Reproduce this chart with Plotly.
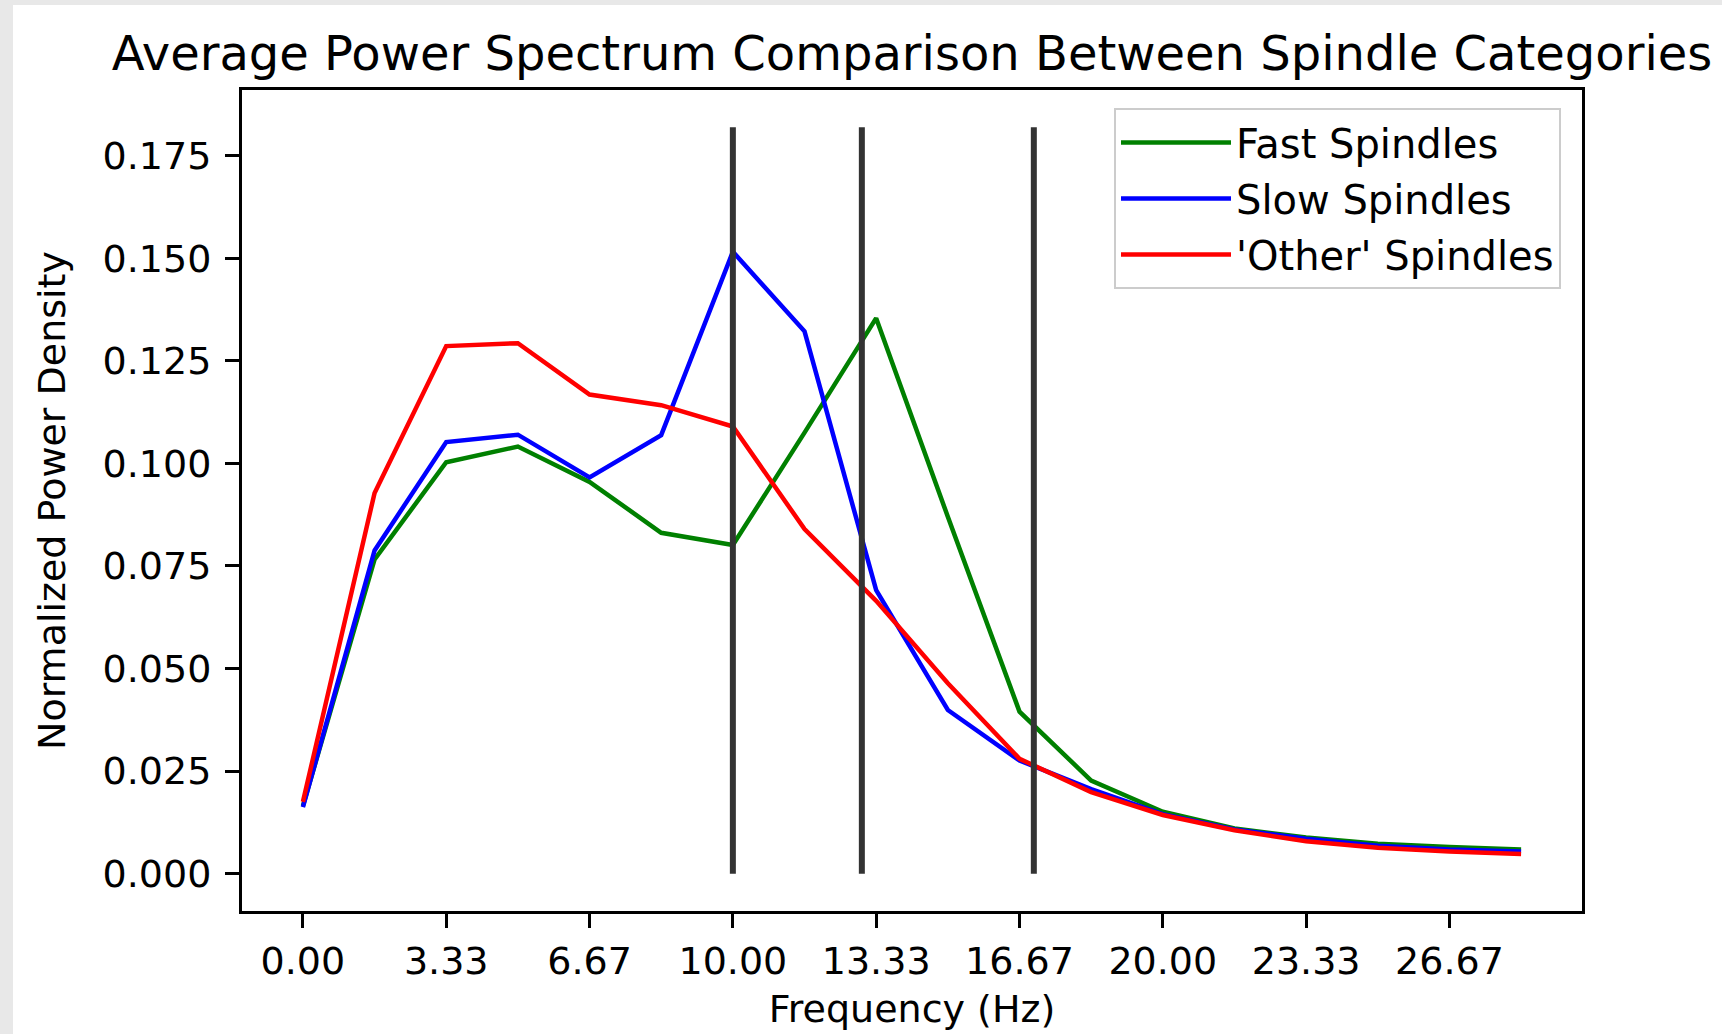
import plotly.graph_objects as go

# Frequency bins (Hz) of the averaged spectra
freqs = [0.0, 1.667, 3.333, 5.0, 6.667, 8.333, 10.0, 11.667, 13.333,
         15.0, 16.667, 18.333, 20.0, 21.667, 23.333, 25.0, 26.667, 28.333]

fast = [0.0165, 0.0766, 0.1003, 0.1041, 0.0955, 0.0831, 0.0801, 0.1075, 0.1354,
        0.0870, 0.0395, 0.0227, 0.0151, 0.0110, 0.0088, 0.0073, 0.0065, 0.0059]
slow = [0.0162, 0.0788, 0.1052, 0.1070, 0.0966, 0.1069, 0.1516, 0.1322, 0.0691,
        0.0399, 0.0276, 0.0206, 0.0145, 0.0108, 0.0085, 0.0068, 0.0059, 0.0054]
other = [0.0175, 0.0928, 0.1286, 0.1293, 0.1168, 0.1142, 0.1090, 0.0840, 0.0665,
         0.0464, 0.0280, 0.0199, 0.0143, 0.0106, 0.0079, 0.0063, 0.0054, 0.0048]

# spindle band edges (Hz)
band_edges = [10, 13, 17]

x_tickvals = [0.0, 3.333, 6.667, 10.0, 13.333, 16.667, 20.0, 23.333, 26.667]
x_ticktext = ["0.00", "3.33", "6.67", "10.00", "13.33", "16.67", "20.00", "23.33", "26.67"]
y_tickvals = [0.0, 0.025, 0.05, 0.075, 0.1, 0.125, 0.15, 0.175]

# ---------------------------------------------------------------------------
# page geometry
# ---------------------------------------------------------------------------
W, H = 1722, 1034
L, R, T, B = 242, 140, 90, 123
PW, PH = W - L - R, H - T - B


def px_x(p):
    return (p - L) / PW


def px_y(p):
    return 1 - (p - T) / PH


FONT = "DejaVu Sans"
vline_top = 1.2 * max(slow)

# matplotlib-like 5% autoscale margins
xpad = 0.05 * (freqs[-1] - freqs[0])
ypad = 0.05 * vline_top

fig = go.Figure()

for name, vals, color in [("Fast Spindles", fast, "#008000"),
                          ("Slow Spindles", slow, "#0000ff"),
                          ("'Other' Spindles", other, "#ff0000")]:
    fig.add_trace(go.Scatter(x=freqs, y=vals, mode="lines", name=name,
                             legendgroup=name,
                             line=dict(color=color, width=4.5)))

vx, vy = [], []
for e in band_edges:
    vx += [e, e, None]
    vy += [0, vline_top, None]
fig.add_trace(go.Scatter(x=vx, y=vy, mode="lines", showlegend=False,
                         line=dict(color="#333333", width=6), hoverinfo="skip"))

# light grey strip of the notebook output area (left / top)
fig.add_shape(type="rect", xref="paper", yref="paper", layer="below",
              x0=px_x(13), x1=px_x(W + 50), y0=px_y(H + 50), y1=px_y(5),
              fillcolor="white", line=dict(width=0))

axis_common = dict(
    showgrid=False, zeroline=False, showline=True, mirror=True,
    linecolor="black", linewidth=3,
    ticks="outside", ticklen=14, tickwidth=3, tickcolor="black",
    tickfont=dict(family=FONT, size=38, color="black"),
    title_font=dict(family=FONT, size=38, color="black"),
)

fig.update_xaxes(range=[freqs[0] - xpad, freqs[-1] + xpad],
                 tickvals=x_tickvals, ticktext=x_ticktext,
                 title_text="Frequency (Hz)", title_standoff=14,
                 **axis_common)
fig.update_yaxes(range=[-ypad, vline_top + ypad],
                 tickvals=y_tickvals, tickformat=".3f",
                 ticklabelstandoff=6,
                 title_text="Normalized Power Density", title_standoff=26,
                 **axis_common)

fig.update_layout(
    width=W, height=H,
    margin=dict(l=L, r=R, t=T, b=B),
    paper_bgcolor="#e8e8e8",
    plot_bgcolor="white",
    font=dict(family=FONT, color="black"),
    title=dict(text="Average Power Spectrum Comparison Between Spindle Categories",
               font=dict(family=FONT, size=48, color="black"),
               x=0.5, xref="paper", xanchor="center",
               y=1 - 53 / H, yref="container", yanchor="middle"),
    legend=dict(x=px_x(1561), y=px_y(108), xanchor="right", yanchor="top",
                bgcolor="rgba(255,255,255,0.8)", bordercolor="#cccccc",
                borderwidth=2, font=dict(family=FONT, size=40, color="black"),
                itemwidth=110, tracegroupgap=1),
)

fig.write_html("out.html",
               config={"displayModeBar": False},
               post_script="document.body.style.margin='0';"
                           "document.body.style.overflow='hidden';")
